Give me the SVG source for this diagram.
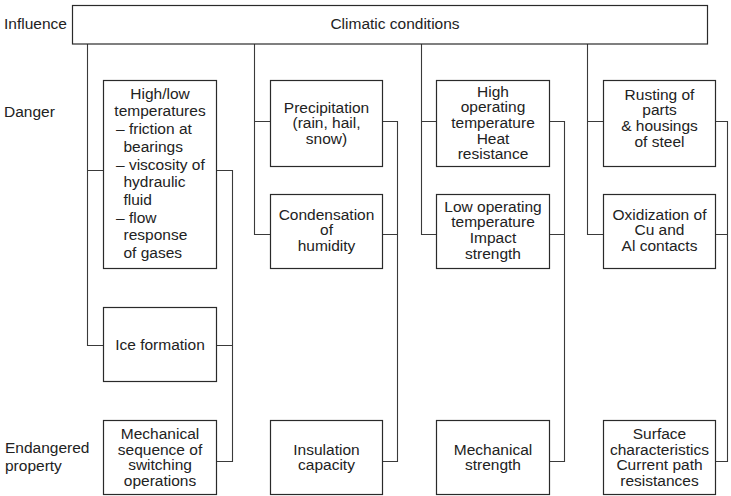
<svg xmlns="http://www.w3.org/2000/svg" width="731" height="496" viewBox="0 0 731 496">
  <style>
    .box { fill: #ffffff; stroke: #2a2a2a; stroke-width: 1.2; }
    .link { fill: none; stroke: #3a3a3a; stroke-width: 1.1; }
    text { font-family: "Liberation Sans", Arial, Helvetica, sans-serif; font-size: 15.5px; fill: #222222; }
    .c { text-anchor: middle; }
  </style>
  <rect width="731" height="496" fill="#ffffff"/>

  <!-- row labels -->
  <g id="row-labels">
    <text x="4" y="28.5">Influence</text>
    <text x="4" y="117">Danger</text>
    <text x="5" y="453">Endangered</text>
    <text x="5" y="471">property</text>
  </g>

  <!-- connectors -->
  <g id="connectors" class="link">
    <!-- column 1 -->
    <path d="M87.5,44 V345.5 H103.5 M87.5,170.5 H103.5"/>
    <path d="M216.5,170.5 H232.5 V461.5 H216.5 M216.5,345.5 H232.5"/>
    <!-- column 2 -->
    <path d="M254.5,44 V234.5 H270.5 M254.5,121.5 H270.5"/>
    <path d="M382.5,121.5 H397.5 V461.5 H382.5 M382.5,234.5 H397.5"/>
    <!-- column 3 -->
    <path d="M421.5,44 V234.5 H436.5 M421.5,121.5 H436.5"/>
    <path d="M549.5,121.5 H564.5 V461.5 H549.5 M549.5,234.5 H564.5"/>
    <!-- column 4 -->
    <path d="M587.5,44 V234.5 H603.5 M587.5,121.5 H603.5"/>
    <path d="M715.5,121.5 H727.5 V461.5 H715.5 M715.5,234.5 H727.5"/>
  </g>

  <!-- influence -->
  <g id="climatic-conditions">
    <rect class="box" x="72.5" y="5.5" width="635" height="38.5"/>
    <text class="c" x="395" y="29">Climatic conditions</text>
  </g>

  <!-- column 1 -->
  <g id="temperatures">
    <rect class="box" x="103.5" y="80.5" width="113" height="188"/>
    <text class="c" x="160" y="98.5">High/low</text>
    <text class="c" x="160" y="116">temperatures</text>
    <text x="116" y="134">– friction at</text>
    <text x="123.5" y="152">bearings</text>
    <text x="116" y="169.5">– viscosity of</text>
    <text x="123.5" y="187">hydraulic</text>
    <text x="123.5" y="205">fluid</text>
    <text x="116" y="222.5">– flow</text>
    <text x="123.5" y="240">response</text>
    <text x="123.5" y="258">of gases</text>
  </g>
  <g id="ice-formation">
    <rect class="box" x="103.5" y="307.5" width="113" height="74"/>
    <text class="c" x="160" y="350">Ice formation</text>
  </g>
  <g id="mechanical-sequence">
    <rect class="box" x="103.5" y="420.5" width="113" height="74"/>
    <text class="c" x="160" y="439">Mechanical</text>
    <text class="c" x="160" y="454.6">sequence of</text>
    <text class="c" x="160" y="470.2">switching</text>
    <text class="c" x="160" y="485.8">operations</text>
  </g>

  <!-- column 2 -->
  <g id="precipitation">
    <rect class="box" x="270.5" y="80.5" width="112" height="86"/>
    <text class="c" x="326.5" y="112.5">Precipitation</text>
    <text class="c" x="326.5" y="128.2">(rain, hail,</text>
    <text class="c" x="326.5" y="143.9">snow)</text>
  </g>
  <g id="condensation">
    <rect class="box" x="270.5" y="194.5" width="112" height="74"/>
    <text class="c" x="326.5" y="219.5">Condensation</text>
    <text class="c" x="326.5" y="235.2">of</text>
    <text class="c" x="326.5" y="250.9">humidity</text>
  </g>
  <g id="insulation-capacity">
    <rect class="box" x="270.5" y="420.5" width="112" height="74"/>
    <text class="c" x="326.5" y="454.6">Insulation</text>
    <text class="c" x="326.5" y="470.2">capacity</text>
  </g>

  <!-- column 3 -->
  <g id="high-operating-temperature">
    <rect class="box" x="436.5" y="80.5" width="113" height="86"/>
    <text class="c" x="493" y="96.5">High</text>
    <text class="c" x="493" y="112.2">operating</text>
    <text class="c" x="493" y="127.9">temperature</text>
    <text class="c" x="493" y="143.6">Heat</text>
    <text class="c" x="493" y="159.3">resistance</text>
  </g>
  <g id="low-operating-temperature">
    <rect class="box" x="436.5" y="194.5" width="113" height="74"/>
    <text class="c" x="493" y="211.5">Low operating</text>
    <text class="c" x="493" y="227.2">temperature</text>
    <text class="c" x="493" y="242.9">Impact</text>
    <text class="c" x="493" y="258.6">strength</text>
  </g>
  <g id="mechanical-strength">
    <rect class="box" x="436.5" y="420.5" width="113" height="74"/>
    <text class="c" x="493" y="454.6">Mechanical</text>
    <text class="c" x="493" y="470.2">strength</text>
  </g>

  <!-- column 4 -->
  <g id="rusting">
    <rect class="box" x="603.5" y="80.5" width="112" height="86"/>
    <text class="c" x="659.5" y="99.5">Rusting of</text>
    <text class="c" x="659.5" y="115.2">parts</text>
    <text class="c" x="659.5" y="130.9">&amp; housings</text>
    <text class="c" x="659.5" y="146.6">of steel</text>
  </g>
  <g id="oxidization">
    <rect class="box" x="603.5" y="194.5" width="112" height="74"/>
    <text class="c" x="659.5" y="219.5">Oxidization of</text>
    <text class="c" x="659.5" y="235.2">Cu and</text>
    <text class="c" x="659.5" y="250.9">Al contacts</text>
  </g>
  <g id="surface-characteristics">
    <rect class="box" x="603.5" y="420.5" width="112" height="74"/>
    <text class="c" x="659.5" y="439">Surface</text>
    <text class="c" x="659.5" y="454.6">characteristics</text>
    <text class="c" x="659.5" y="470.2">Current path</text>
    <text class="c" x="659.5" y="485.8">resistances</text>
  </g>
</svg>
